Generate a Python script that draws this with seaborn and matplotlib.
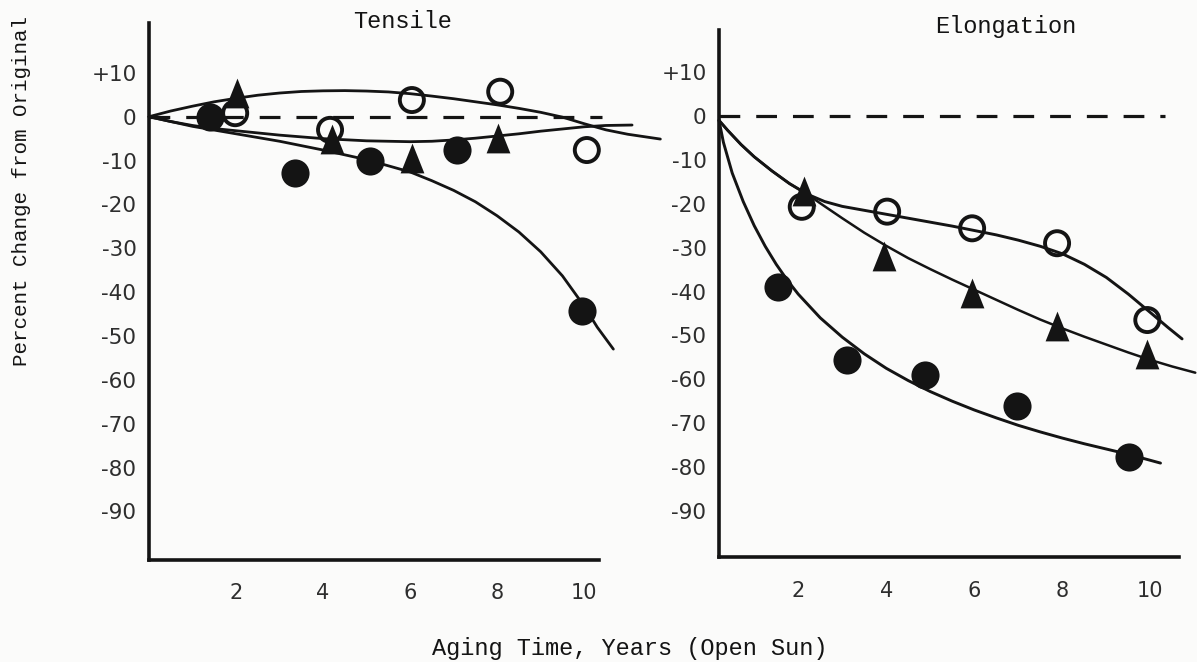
import matplotlib
matplotlib.use("Agg")
import matplotlib.pyplot as plt
import seaborn as sns

# ---------------- Tensile: percent change vs. aging years ----------------
tens_open_x = [1.98, 4.16, 6.04, 8.07, 10.06]
tens_open_y = [0.8, -3.0, 3.8, 5.7, -7.6]
tens_tri_x = [2.02, 4.20, 6.04, 8.02]
tens_tri_y = [5.5, -5.0, -9.5, -4.9]
tens_fill_x = [1.40, 3.36, 5.08, 7.07, 9.95]
tens_fill_y = [0.0, -12.8, -10.2, -7.6, -44.3]

# hand-drawn trend curves
tens_open_cx = [0.0, 0.5, 1.0, 1.5, 2.0, 2.5, 3.0, 3.5, 4.0, 4.5, 5.0, 5.5, 6.0, 6.5,
                7.0, 7.5, 8.0, 8.5, 9.0, 9.5, 10.0, 10.5, 11.0, 11.75]
tens_open_cy = [0.0, 1.3, 2.4, 3.4, 4.2, 4.9, 5.4, 5.75, 5.9, 5.95, 5.85, 5.65, 5.25, 4.7,
                4.1, 3.4, 2.7, 1.9, 1.0, -0.1, -1.6, -3.0, -4.0, -5.1]
tens_tri_cx = [0.0, 0.5, 1.0, 1.5, 2.0, 3.0, 4.0, 5.0, 6.0, 6.5, 7.0, 7.5, 8.0, 8.5,
               9.0, 9.5, 10.0, 10.5, 11.1]
tens_tri_cy = [0.0, -1.1, -2.0, -2.7, -3.2, -4.2, -5.0, -5.5, -5.7, -5.6, -5.3, -4.9, -4.4, -3.9,
               -3.3, -2.8, -2.3, -2.0, -1.9]
tens_fill_cx = [0.0, 1.0, 2.0, 3.0, 4.0, 5.0, 6.0, 6.5, 7.0, 7.5, 8.0, 8.5, 9.0, 9.5,
                10.0, 10.3, 10.67]
tens_fill_cy = [0.0, -2.2, -3.9, -5.6, -7.6, -9.8, -12.6, -14.6, -16.8, -19.4, -22.6, -26.3, -30.8, -36.3,
                -43.2, -48.0, -53.0]

# ---------------- Elongation: percent change vs. aging years ----------------
elon_open_x = [2.08, 4.02, 5.95, 7.88, 9.93]
elon_open_y = [-20.7, -21.8, -25.6, -29.0, -46.5]
elon_tri_x = [2.12, 3.94, 5.95, 7.88, 9.93]
elon_tri_y = [-17.2, -31.8, -40.4, -47.8, -54.2]
elon_fill_x = [1.55, 3.11, 4.89, 6.97, 9.51]
elon_fill_y = [-38.9, -55.6, -59.0, -66.2, -77.6]

elon_open_cx = [0.2, 0.4, 0.7, 1.0, 1.4, 1.8, 2.2, 2.6, 3.0, 3.5, 4.0, 4.5, 5.0, 5.5, 6.0,
                6.5, 7.0, 7.5, 8.0, 8.5, 9.0, 9.5, 10.0, 10.4, 10.72]
elon_open_cy = [-1.0, -3.3, -6.5, -9.3, -12.5, -15.4, -17.8, -19.5, -20.6, -21.5, -22.4, -23.3, -24.2, -25.1, -26.1,
                -27.1, -28.3, -29.7, -31.4, -33.8, -36.8, -40.6, -44.8, -48.2, -50.8]
elon_tri_cx = [0.2, 0.4, 0.7, 1.0, 1.4, 1.8, 2.2, 2.5, 3.0, 3.5, 4.0, 4.5, 5.0, 5.5, 6.0,
               6.5, 7.0, 7.5, 8.0, 8.5, 9.0, 9.5, 10.0, 10.5, 11.02]
elon_tri_cy = [-1.0, -3.3, -6.5, -9.3, -12.5, -15.4, -17.8, -19.9, -23.3, -26.6, -29.6, -32.4, -34.9, -37.3, -39.6,
               -41.9, -44.2, -46.4, -48.4, -50.3, -52.1, -53.9, -55.6, -57.1, -58.5]
elon_fill_cx = [0.2, 0.3, 0.5, 0.75, 1.0, 1.25, 1.5, 1.75, 2.0, 2.5, 3.0, 3.5, 4.0, 4.5, 5.0,
                5.5, 6.0, 6.5, 7.0, 7.5, 8.0, 8.5, 9.0, 9.5, 10.23]
elon_fill_cy = [-1.0, -6.0, -13.0, -19.5, -25.0, -29.7, -33.8, -37.4, -40.6, -46.0, -50.4, -54.2, -57.5, -60.3, -62.8,
                -65.0, -67.0, -68.8, -70.5, -72.0, -73.4, -74.7, -75.9, -77.1, -79.1]

y_ticks = [10, 0, -10, -20, -30, -40, -50, -60, -70, -80, -90]
y_tick_labels = ["+10", "0", "-10", "-20", "-30", "-40", "-50", "-60", "-70", "-80", "-90"]
x_ticks = [2, 4, 6, 8, 10]
x_tick_labels = ["2", "4", "6", "8", "10"]

W, H = 1197, 662
sns.set_style("white")
plt.rcParams["font.family"] = ["DejaVu Sans"]
PAPER = "#fbfbfa"
INK = "#141414"
TYPE_FONT = ["Liberation Mono", "DejaVu Sans Mono"]

fig = plt.figure(figsize=(W / 100, H / 100), dpi=100, facecolor=PAPER)


def axes_px(left, right, top, bottom):
    return fig.add_axes([left / W, 1 - bottom / H, (right - left) / W, (bottom - top) / H])


ax_t = axes_px(149, 599, 23.3, 559.6)
ax_e = axes_px(719, 1179, 30.4, 557.0)

TRI = [(0, 1.0), (-0.8, -1.0), (0.8, -1.0)]


def draw_panel(ax, xlim, ylim, zero_end, series):
    ax.set_facecolor(PAPER)
    ax.set_xlim(*xlim)
    ax.set_ylim(*ylim)
    # reference line at zero change
    sns.lineplot(x=[xlim[0], zero_end], y=[0, 0], ax=ax, color=INK, lw=2.3,
                 dashes=False, linestyle=(0, (6.5, 5.0)), clip_on=False)
    for kind, px, py, cx, cy, lw in series:
        sns.lineplot(x=cx, y=cy, ax=ax, sort=False, estimator=None, color=INK,
                     lw=lw, clip_on=False, solid_capstyle="round", solid_joinstyle="round")
        if kind == "open":
            sns.scatterplot(x=px, y=py, ax=ax, marker="o", s=300, facecolors="none",
                            edgecolor=INK, linewidth=2.8, zorder=5, clip_on=False)
        elif kind == "tri":
            sns.scatterplot(x=px, y=py, ax=ax, marker=TRI, s=460, color=INK,
                            edgecolor=INK, linewidth=0, zorder=5, clip_on=False)
        else:
            sns.scatterplot(x=px, y=py, ax=ax, marker="o", s=410, color=INK,
                            edgecolor=INK, linewidth=0, zorder=5, clip_on=False)
    sns.despine(ax=ax)
    for side in ("left", "bottom"):
        ax.spines[side].set_linewidth(2.6)
        ax.spines[side].set_color(INK)
    ax.set_yticks(y_ticks)
    ax.set_yticklabels(y_tick_labels)
    ax.set_xticks(x_ticks)
    ax.set_xticklabels(x_tick_labels)
    ax.tick_params(axis="both", direction="out", length=4, width=2.4, color=INK,
                   labelcolor="#2e2e2e")
    ax.tick_params(axis="y", pad=5, labelsize=15.5)
    ax.tick_params(axis="x", pad=13, labelsize=15)
    ax.set_xlabel("")
    ax.set_ylabel("")


draw_panel(ax_t, (0, 10.34), (-101, 21.3), 10.41, [
    ("open", tens_open_x, tens_open_y, tens_open_cx, tens_open_cy, 2.0),
    ("tri", tens_tri_x, tens_tri_y, tens_tri_cx, tens_tri_cy, 2.0),
    ("fill", tens_fill_x, tens_fill_y, tens_fill_cx, tens_fill_cy, 2.0),
])
draw_panel(ax_e, (0.2, 10.65), (-100.5, 19.5), 10.34, [
    ("open", elon_open_x, elon_open_y, elon_open_cx, elon_open_cy, 2.1),
    ("tri", elon_tri_x, elon_tri_y, elon_tri_cx, elon_tri_cy, 1.8),
    ("fill", elon_fill_x, elon_fill_y, elon_fill_cx, elon_fill_cy, 2.1),
])

fig.text(403 / W, 1 - 22 / H, "Tensile", family=TYPE_FONT, fontsize=17,
         color=INK, ha="center", va="center")
fig.text(1006 / W, 1 - 27 / H, "Elongation", family=TYPE_FONT, fontsize=17,
         color=INK, ha="center", va="center")
fig.text(630 / W, 1 - 648 / H, "Aging Time, Years (Open Sun)", family=TYPE_FONT,
         fontsize=17, color=INK, ha="center", va="center")
fig.text(22 / W, 1 - 366 / H, "Percent Change from Original", family=TYPE_FONT,
         fontsize=15, color=INK, ha="center", va="bottom", rotation=90)

fig.savefig("out.png", dpi=100, facecolor=PAPER)
